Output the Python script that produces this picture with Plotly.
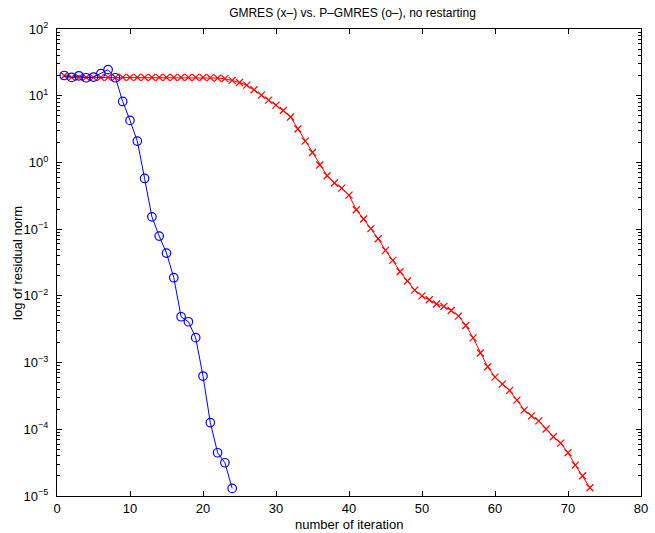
import plotly.graph_objects as go

# P-GMRES (o-) residual norms, iterations 1..24
pg_iter = list(range(1, 25))
pg_res = [20.1, 18.8, 19.9, 18.6, 19.0, 21.4, 24.6, 18.6, 8.2, 4.26, 2.09, 0.575,
          0.153, 0.0787, 0.0438, 0.0187, 0.00486, 0.00409, 0.00236, 0.000628,
          0.000126, 4.45e-5, 3.15e-5, 1.30e-5]

# GMRES (x-) residual norms, iterations 1..73
g_iter = list(range(1, 74))
g_res = [19.9, 18.8, 18.8, 18.8, 18.8, 18.8, 18.8, 18.8, 18.8, 18.8,
         18.8, 18.8, 18.8, 18.8, 18.8, 18.8, 18.8, 18.8, 18.8, 18.8,
         18.7, 18.4, 18.0, 17.0, 15.8, 14.4, 12.3, 10.2, 8.6, 7.24,
         6.0, 4.8, 3.17, 2.09, 1.41, 0.914, 0.632, 0.491, 0.413, 0.324,
         0.195, 0.142, 0.102, 0.0717, 0.048, 0.034, 0.023, 0.0167, 0.0122, 0.0100,
         0.00874, 0.00754, 0.00694, 0.00604, 0.00498, 0.0036, 0.00235, 0.00139, 0.000865, 0.000606,
         0.000476, 0.000382, 0.000274, 0.000194, 0.000159, 0.000134, 0.000101, 7.72e-5, 6.21e-5, 4.45e-5,
         2.91e-5, 2.01e-5, 1.33e-5]

x_ticks = [0, 10, 20, 30, 40, 50, 60, 70, 80]
y_ticks = [1e-5, 1e-4, 1e-3, 1e-2, 1e-1, 1, 10, 100]
y_tick_text = ["10<sup>−5</sup>", "10<sup>−4</sup>", "10<sup>−3</sup>", "10<sup>−2</sup>",
               "10<sup>−1</sup>", "10<sup>0</sup>", "10<sup>1</sup>", "10<sup>2</sup>"]
y_minor = [m * 10.0 ** e for e in range(-5, 2) for m in range(2, 10)]

fig = go.Figure()
fig.add_trace(go.Scatter(
    x=g_iter, y=g_res, mode="lines+markers",
    line=dict(color="rgb(255,0,0)", width=1),
    marker=dict(symbol="x-thin-open", size=7, color="rgb(255,0,0)",
                line=dict(color="rgb(255,0,0)", width=1.2)),
    showlegend=False))
fig.add_trace(go.Scatter(
    x=pg_iter, y=pg_res, mode="lines+markers",
    line=dict(color="rgb(0,0,255)", width=1),
    marker=dict(symbol="circle-open", size=8.5, color="rgb(0,0,255)",
                line=dict(color="rgb(0,0,255)", width=1.2)),
    showlegend=False))

L, R, T, B = 57, 648, 29, 496
W, H = 655, 533
font_family = "Liberation Sans, Arial, Helvetica, sans-serif"
fig.update_layout(
    width=W, height=H,
    margin=dict(l=L, r=W - R, t=T, b=H - B),
    paper_bgcolor="white", plot_bgcolor="white",
    font=dict(family=font_family, size=13, color="black"),
    title=dict(text="GMRES (x–) vs. P–GMRES (o–), no restarting",
               x=(L + R) / 2 / W, xanchor="center",
               y=1 - 13 / H, yanchor="middle",
               font=dict(size=12, family=font_family)),
    xaxis=dict(
        range=[0, 80], tickvals=x_ticks, ticks="inside", ticklen=5,
        tickcolor="black", showline=True, linecolor="black", linewidth=1,
        mirror="allticks", showgrid=False, zeroline=False,
        tickfont=dict(size=13), ticklabelstandoff=0, ticklabeloverflow="allow"),
    yaxis=dict(
        type="log", range=[-5, 2], tickvals=y_ticks, ticktext=y_tick_text,
        ticks="inside", ticklen=5, tickcolor="black",
        showline=True, linecolor="black", linewidth=1,
        mirror="allticks", showgrid=False, zeroline=False,
        tickfont=dict(size=13), ticklabelstandoff=5, ticklabeloverflow="allow",
        minor=dict(tickvals=y_minor, ticks="inside", ticklen=3,
                   tickcolor="black", showgrid=False)),
    annotations=[
        dict(text="number of iteration", xref="paper", yref="paper",
             x=0.5, y=(B - 524) / (B - T), xanchor="center", yanchor="middle",
             showarrow=False, font=dict(size=13)),
        dict(text="log of residual norm", xref="paper", yref="paper",
             x=(17 - L) / (R - L), y=0.5, xanchor="center", yanchor="middle",
             textangle=-90, showarrow=False, font=dict(size=13)),
    ],
)

fig.write_html("out.html")
